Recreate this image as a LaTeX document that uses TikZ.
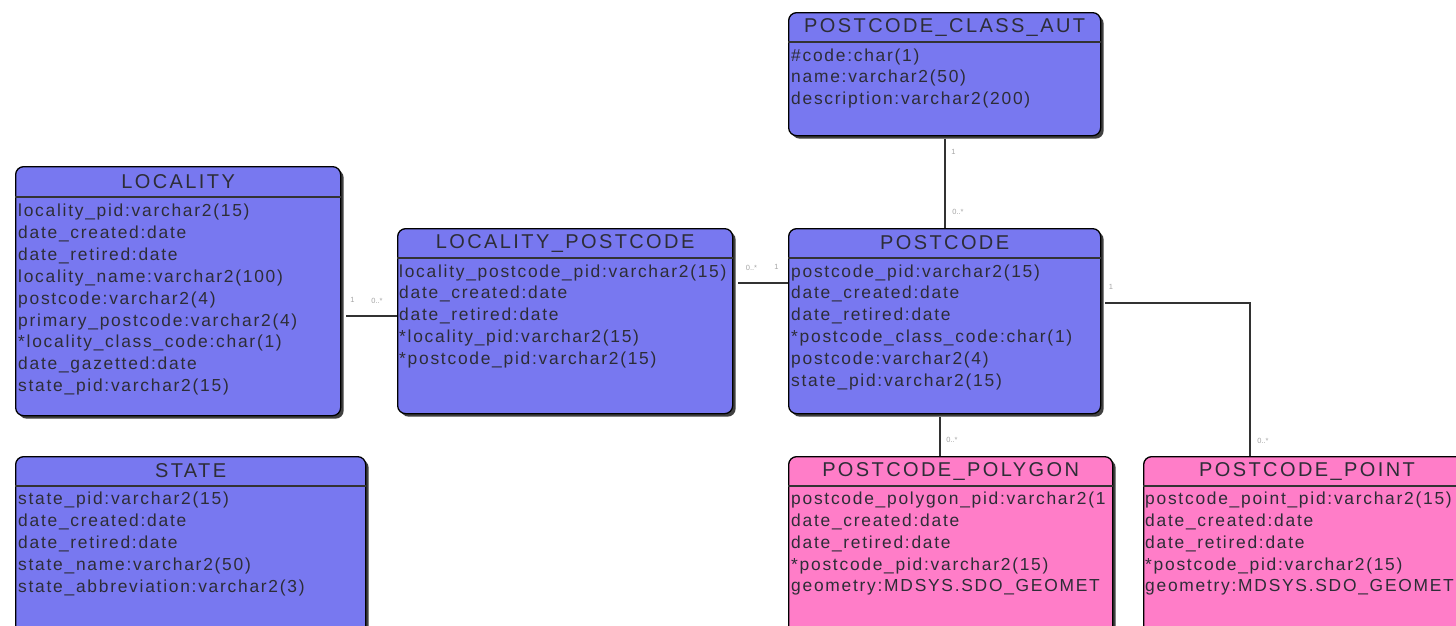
\documentclass[tikz,border=0pt]{standalone}
\usepackage{fontspec}
\setmainfont{Liberation Sans}
\newfontfamily\titlefont[LetterSpace=12]{Liberation Sans}
\newfontfamily\attrfont[LetterSpace=10]{Liberation Sans}
\usetikzlibrary{shadows}
\definecolor{entblue}{RGB}{120,120,240}
\definecolor{entpink}{RGB}{255,125,200}
\definecolor{inkc}{RGB}{45,45,55}
\definecolor{linec}{RGB}{50,50,50}
\definecolor{cardc}{RGB}{165,165,165}
\tikzset{
  entity/.style={draw=black, line width=1.3pt, rounded corners=8pt, anchor=north west,
    inner sep=0pt, drop shadow={shadow xshift=3pt, shadow yshift=-3pt, opacity=1, fill=black!75}},
  bluebox/.style={entity, fill=entblue},
  pinkbox/.style={entity, fill=entpink},
  sepline/.style={line width=1.6pt, draw=black!80},
  etitle/.style={inner sep=0pt, text=inkc, font=\titlefont\fontsize{20}{24}\selectfont},
  attr/.style={inner sep=0pt, anchor=west, text=inkc, font=\attrfont\fontsize{17.4}{20}\selectfont},
  conn/.style={draw=linec, line width=1.8pt},
  card/.style={inner sep=0pt, text=cardc, font=\fontsize{7.5}{8}\selectfont}
}
\begin{document}
\begin{tikzpicture}[x=1pt,y=-1pt]
\useasboundingbox (0,0) rectangle (1456,625);
\clip (0,0) rectangle (1456,625);
% POSTCODE_CLASS_AUT
\node[bluebox, minimum width=312pt, minimum height=123pt] (pca) at (788,12) {};
\draw[sepline] ([yshift=-30pt]pca.north west) -- ([yshift=-30pt]pca.north east);
\node[etitle] (pcat) at ([yshift=-15pt]pca.north) {POSTCODE\_CLASS\_AUT};
\foreach \t [count=\i] in {\#code:char(1),name:varchar2(50),description:varchar2(200)}
  \node[attr] (pca-\i) at ([xshift=3pt,yshift={-44.5pt-21.6pt*(\i-1)}]pca.north west) {\t};
% LOCALITY
\node[bluebox, minimum width=325pt, minimum height=249pt] (loc) at (15,166) {};
\draw[sepline] ([yshift=-31pt]loc.north west) -- ([yshift=-31pt]loc.north east);
\node[etitle] (loct) at ([yshift=-15.5pt]loc.north) {LOCALITY};
\foreach \t [count=\i] in {locality\_pid:varchar2(15),date\_created:date,date\_retired:date,locality\_name:varchar2(100),postcode:varchar2(4),primary\_postcode:varchar2(4),*locality\_class\_code:char(1),date\_gazetted:date,state\_pid:varchar2(15)}
  \node[attr] (loc-\i) at ([xshift=3pt,yshift={-46pt-21.9pt*(\i-1)}]loc.north west) {\t};
% LOCALITY_POSTCODE
\node[bluebox, minimum width=335pt, minimum height=185pt] (lp) at (397,228) {};
\draw[sepline] ([yshift=-30pt]lp.north west) -- ([yshift=-30pt]lp.north east);
\node[etitle] (lpt) at ([yshift=-15pt]lp.north) {LOCALITY\_POSTCODE};
\foreach \t [count=\i] in {locality\_postcode\_pid:varchar2(15),date\_created:date,date\_retired:date,*locality\_pid:varchar2(15),*postcode\_pid:varchar2(15)}
  \node[attr] (lp-\i) at ([xshift=2pt,yshift={-44.5pt-21.8pt*(\i-1)}]lp.north west) {\t};
% POSTCODE
\node[bluebox, minimum width=312pt, minimum height=185pt] (pc) at (788,228) {};
\draw[sepline] ([yshift=-30pt]pc.north west) -- ([yshift=-30pt]pc.north east);
\node[etitle] (pct) at ([yshift=-15pt]pc.north) {POSTCODE};
\foreach \t [count=\i] in {postcode\_pid:varchar2(15),date\_created:date,date\_retired:date,*postcode\_class\_code:char(1),postcode:varchar2(4),state\_pid:varchar2(15)}
  \node[attr] (pc-\i) at ([xshift=3pt,yshift={-44.5pt-21.8pt*(\i-1)}]pc.north west) {\t};
% STATE
\node[bluebox, minimum width=350pt, minimum height=200pt] (st) at (15,456) {};
\draw[sepline] ([yshift=-30pt]st.north west) -- ([yshift=-30pt]st.north east);
\node[etitle] (stt) at ([yshift=-15pt]st.north) {STATE};
\foreach \t [count=\i] in {state\_pid:varchar2(15),date\_created:date,date\_retired:date,state\_name:varchar2(50),state\_abbreviation:varchar2(3)}
  \node[attr] (st-\i) at ([xshift=3pt,yshift={-43.5pt-22pt*(\i-1)}]st.north west) {\t};
% POSTCODE_POLYGON
\node[pinkbox, minimum width=324pt, minimum height=200pt] (poly) at (788,456) {};
\draw[sepline] ([yshift=-30pt]poly.north west) -- ([yshift=-30pt]poly.north east);
\node[etitle] (polyt) at ([yshift=-15pt]poly.north) {POSTCODE\_POLYGON};
\begin{scope}
\clip (788,456) rectangle (1111,625);
\foreach \t [count=\i] in {postcode\_polygon\_pid:varchar2(1,date\_created:date,date\_retired:date,*postcode\_pid:varchar2(15),geometry:MDSYS.SDO\_GEOMET}
  \node[attr] (poly-\i) at ([xshift=3pt,yshift={-43.5pt-22pt*(\i-1)}]poly.north west) {\t};
\end{scope}
% POSTCODE_POINT
\node[pinkbox, minimum width=350pt, minimum height=200pt] (pt) at (1143,456) {};
\draw[sepline] ([yshift=-30pt]pt.north west) -- ([yshift=-30pt]pt.north east);
\node[etitle] (ptt) at (1307,471) {POSTCODE\_POINT};
\foreach \t [count=\i] in {postcode\_point\_pid:varchar2(15),date\_created:date,date\_retired:date,*postcode\_pid:varchar2(15),geometry:MDSYS.SDO\_GEOMET}
  \node[attr] (pt-\i) at ([xshift=2pt,yshift={-43.5pt-22pt*(\i-1)}]pt.north west) {\t};
% connectors
\coordinate (y1) at (0,316);
\coordinate (y2) at (0,283);
\coordinate (x3) at (945,0);
\coordinate (x4) at (940,0);
\coordinate (y5) at (0,303);
\coordinate (x5) at (1250,0);
\draw[conn] ([xshift=5pt]loc.east |- y1) -- (lp.west |- y1);
\draw[conn] ([xshift=5pt]lp.east |- y2) -- (pc.west |- y2);
\draw[conn] ([yshift=-3pt]pca.south -| x3) -- (pc.north -| x3);
\draw[conn] ([yshift=-3pt]pc.south -| x4) -- (poly.north -| x4);
\draw[conn] ([xshift=4pt]pc.east |- y5) -- (x5 |- y5) -- (pt.north -| x5);
% cardinalities
\node[card] (c1a) at (352.5,300) {1};
\node[card] (c1b) at (377,301) {0..*};
\node[card] (c2a) at (751.5,268) {0..*};
\node[card] (c2b) at (776.5,267) {1};
\node[card] (c3a) at (953.5,152) {1};
\node[card] (c3b) at (958,212) {0..*};
\node[card] (c4a) at (952,440) {0..*};
\node[card] (c5a) at (1111,287) {1};
\node[card] (c5b) at (1263,441) {0..*};
\end{tikzpicture}
\end{document}
